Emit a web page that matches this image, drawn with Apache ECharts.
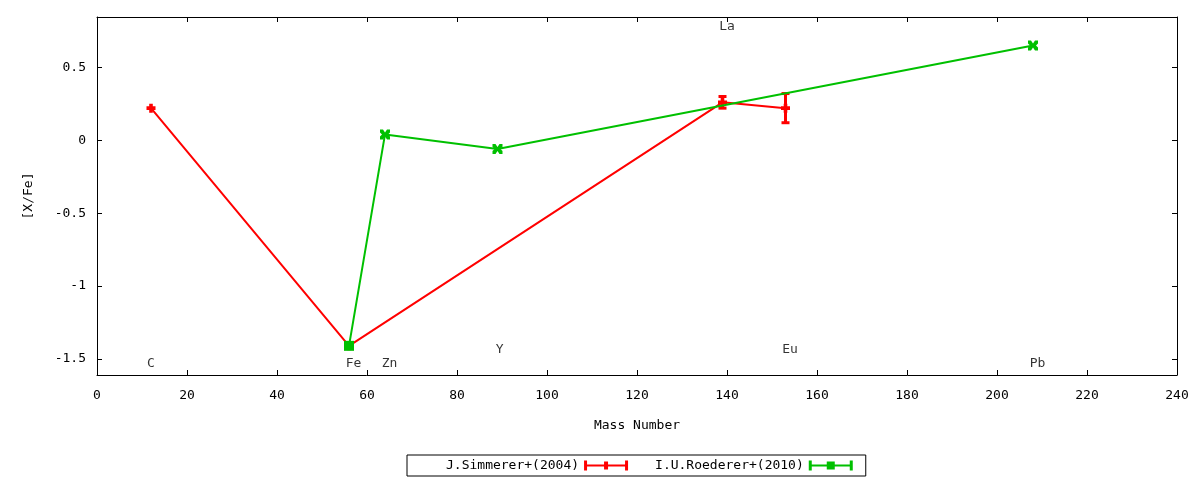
<!DOCTYPE html>
<html><head><meta charset="utf-8">
<script src="https://cdn.jsdelivr.net/npm/echarts@6/dist/echarts.min.js"></script>
<style>html,body{margin:0;padding:0;background:#fff}#c{width:1200px;height:480px}</style>
</head><body><div id="c"></div>
<script>
// Data
const simmererX = [12, 56, 139, 153];
const simmererY = [0.22, -1.41, 0.26, 0.22];
const simmererErr = [0, 0, 0.04, 0.10];
const roedererX = [56, 64, 89, 208];
const roedererY = [-1.41, 0.04, -0.06, 0.65];
const elementNames = ['C', 'Fe', 'Zn', 'Y', 'La', 'Eu', 'Pb'];
const elementLabelX = [12, 57, 65, 89.5, 140, 154, 209];
const elementLabelY = [-1.53, -1.53, -1.53, -1.435, 0.78, -1.435, -1.53];
const yTicks = [-1.5, -1, -0.5, 0, 0.5];

const FONT = 'DejaVu Sans Mono';
const RED = '#ff0000', GREEN = '#00c000';
const simData = simmererX.map((x, i) => [x, simmererY[i], simmererErr[i]]);
const plusPath = 'path://M3,0h4v3h3v4h-3v3h-4v-3h-3v-4h3z';
const xPath = 'path://M0,0h3l2,3l2,-3h3v3l-2,2l2,2v3h-3l-2,-3l-2,3h-3v-3l2,-2l-2,-2z';
const roeData = roedererX.map((x, i) => ({ value: [x, roedererY[i]], symbol: i === 0 ? 'rect' : xPath }));
const labelData = elementNames.map((n, i) => ({ name: n, value: [elementLabelX[i], elementLabelY[i]] }));

const legendRed = 'path://M0,0h3v10h-3z M41,0h3v10h-3z M0,4h44v2h-44z M20,1h4v8h-4z';
const legendGreen = 'path://M0,0h3v10h-3z M41,0h3v10h-3z M0,4h44v2h-44z M18,1h8v8h-8z';

const chart = echarts.init(document.getElementById('c'));
const line = { onZero: false, lineStyle: { color: '#000', width: 1 } };
const tick = { inside: true, length: 5, lineStyle: { color: '#000' } };
chart.setOption({
  animation: false,
  backgroundColor: '#fff',
  textStyle: { fontFamily: FONT },
  grid: { left: 97, right: 23, top: 17, bottom: 105, show: false },
  xAxis: [
    {
      type: 'value', min: 0, max: 240, interval: 20, position: 'bottom',
      axisLine: line, axisTick: tick, splitLine: { show: false },
      name: 'Mass Number', nameLocation: 'middle', nameGap: 44,
      nameTextStyle: { fontFamily: FONT, fontSize: 13, color: '#000' },
      axisLabel: { fontFamily: FONT, fontSize: 13, color: '#000', margin: 14 }
    },
    {
      type: 'value', min: 0, max: 240, interval: 20, position: 'top',
      axisLine: line, axisTick: tick, splitLine: { show: false },
      axisLabel: { show: false }
    }
  ],
  yAxis: [
    {
      type: 'value', min: -1.61, max: 0.845, position: 'left',
      axisLine: line, splitLine: { show: false },
      name: '[X/Fe]', nameLocation: 'middle', nameGap: 62,
      nameTextStyle: { fontFamily: FONT, fontSize: 13, color: '#000' },
      axisTick: Object.assign({}, tick, { customValues: yTicks }),
      axisLabel: { fontFamily: FONT, fontSize: 13, color: '#000', margin: 11, customValues: yTicks }
    },
    {
      type: 'value', min: -1.61, max: 0.845, position: 'right',
      axisLine: line, splitLine: { show: false },
      axisTick: Object.assign({}, tick, { customValues: yTicks }),
      axisLabel: { show: false }
    }
  ],
  legend: {
    left: 407, top: 455, align: 'right', orient: 'horizontal',
    data: [
      { name: 'J.Simmerer+(2004)', icon: legendRed },
      { name: 'I.U.Roederer+(2010)', icon: legendGreen }
    ],
    itemWidth: 44, itemHeight: 10, itemGap: 27,
    padding: [4, 13, 4, 39],
    borderColor: '#000', borderWidth: 1, borderRadius: 0,
    textStyle: { fontFamily: FONT, fontSize: 13, color: '#000' },
    selectedMode: false
  },
  series: [
    {
      name: 'J.Simmerer+(2004)', type: 'line', data: simData.map(d => [d[0], d[1]]),
      color: RED, lineStyle: { color: RED, width: 2 },
      symbol: plusPath, symbolSize: 9, itemStyle: { color: RED }, z: 3
    },
    {
      name: 'J.Simmerer+(2004)', type: 'custom', data: simData, z: 3,
      renderItem: function (params, api) {
        const x = api.value(0), y = api.value(1), e = api.value(2);
        if (!e) return null;
        const top = api.coord([x, y + e]), bot = api.coord([x, y - e]);
        const hw = 4;
        const st = { stroke: RED, lineWidth: 3 };
        return { type: 'group', children: [
          { type: 'line', shape: { x1: top[0], y1: top[1], x2: bot[0], y2: bot[1] }, style: st },
          { type: 'line', shape: { x1: top[0] - hw, y1: top[1], x2: top[0] + hw, y2: top[1] }, style: st },
          { type: 'line', shape: { x1: bot[0] - hw, y1: bot[1], x2: bot[0] + hw, y2: bot[1] }, style: st }
        ] };
      }
    },
    {
      name: 'I.U.Roederer+(2010)', type: 'line', data: roeData,
      color: GREEN, lineStyle: { color: GREEN, width: 2 },
      symbolSize: 10, itemStyle: { color: GREEN }, z: 4
    },
    {
      name: 'labels', type: 'scatter', data: labelData, symbolSize: 0, silent: true,
      label: { show: true, position: 'inside', formatter: '{b}', fontFamily: FONT, fontSize: 13, color: '#000' }
    }
  ]
});
</script></body></html>
